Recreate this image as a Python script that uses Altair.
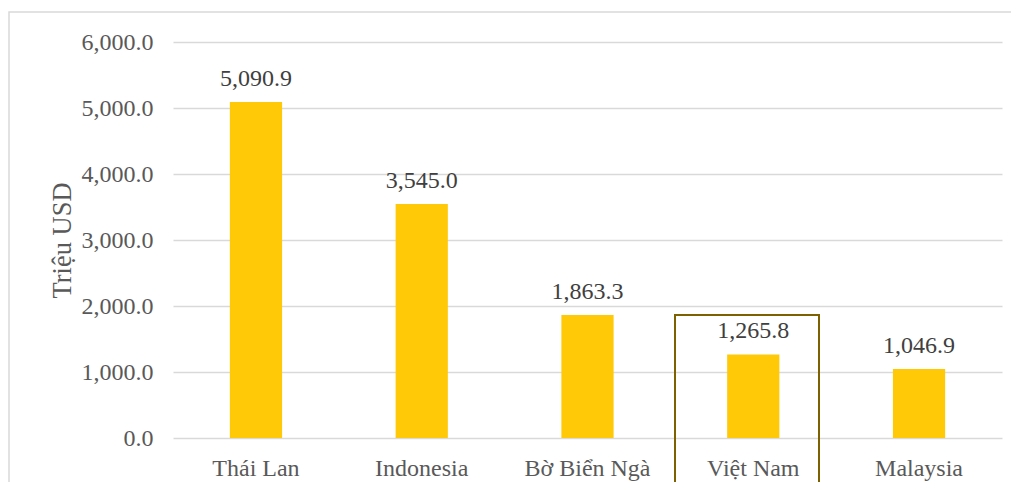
import altair as alt
import pandas as pd

countries = ["Thái Lan", "Indonesia", "Bờ Biển Ngà", "Việt Nam", "Malaysia"]
values = [5090.9, 3545.0, 1863.3, 1265.8, 1046.9]
y_ticks = [0, 1000, 2000, 3000, 4000, 5000, 6000]

df = pd.DataFrame({"country": countries, "value": values})

FONT = "Liberation Serif, Times New Roman, serif"

x_enc = alt.X("country:N", sort=countries, title=None,
              scale=alt.Scale(paddingInner=0.685, paddingOuter=0.343),
              axis=alt.Axis(labelAngle=0, labelPadding=18, grid=False))
y_enc = alt.Y("value:Q", title="Triệu USD",
              scale=alt.Scale(domain=[0, 6000], nice=False),
              axis=alt.Axis(values=y_ticks, format=",.1f", labelPadding=20,
                            titlePadding=5))

base = alt.Chart(df)

bars = base.mark_bar(color="#FFC908").encode(x=x_enc, y=y_enc)

labels = base.mark_text(dy=-16, baseline="alphabetic", font=FONT, fontSize=24,
                        color="#404040").encode(
    x=x_enc,
    y=y_enc,
    text=alt.Text("value:Q", format=",.1f"),
)

frame = base.mark_rect(fill=None, stroke="#d9d9d9", strokeWidth=1.5, clip=False).encode(
    x=alt.value(-164), x2=alt.value(900), y=alt.value(-30), y2=alt.value(520)
).transform_filter(alt.datum.country == "Thái Lan")

box = base.mark_rect(fill=None, stroke="#7F6000", strokeWidth=2, clip=False).encode(
    x=alt.value(502), x2=alt.value(646), y=alt.value(273), y2=alt.value(520)
).transform_filter(alt.datum.country == "Việt Nam")

chart = alt.layer(frame, bars, labels, box).properties(
    width=829, height=396,
    autosize=alt.AutoSizeParams(type="none"),
    padding={"left": 165, "top": 34, "right": 9, "bottom": 44},
).configure_view(stroke=None).configure_axis(
    labelFont=FONT, labelFontSize=24, labelColor="#595959",
    domain=False, ticks=False,
    gridColor="#d9d9d9", gridWidth=1.5,
    titleFont=FONT, titleFontSize=26.5, titleColor="#595959",
    titleFontWeight="normal",
)

chart.save("out.html", embed_options={"renderer": "svg", "actions": False})
